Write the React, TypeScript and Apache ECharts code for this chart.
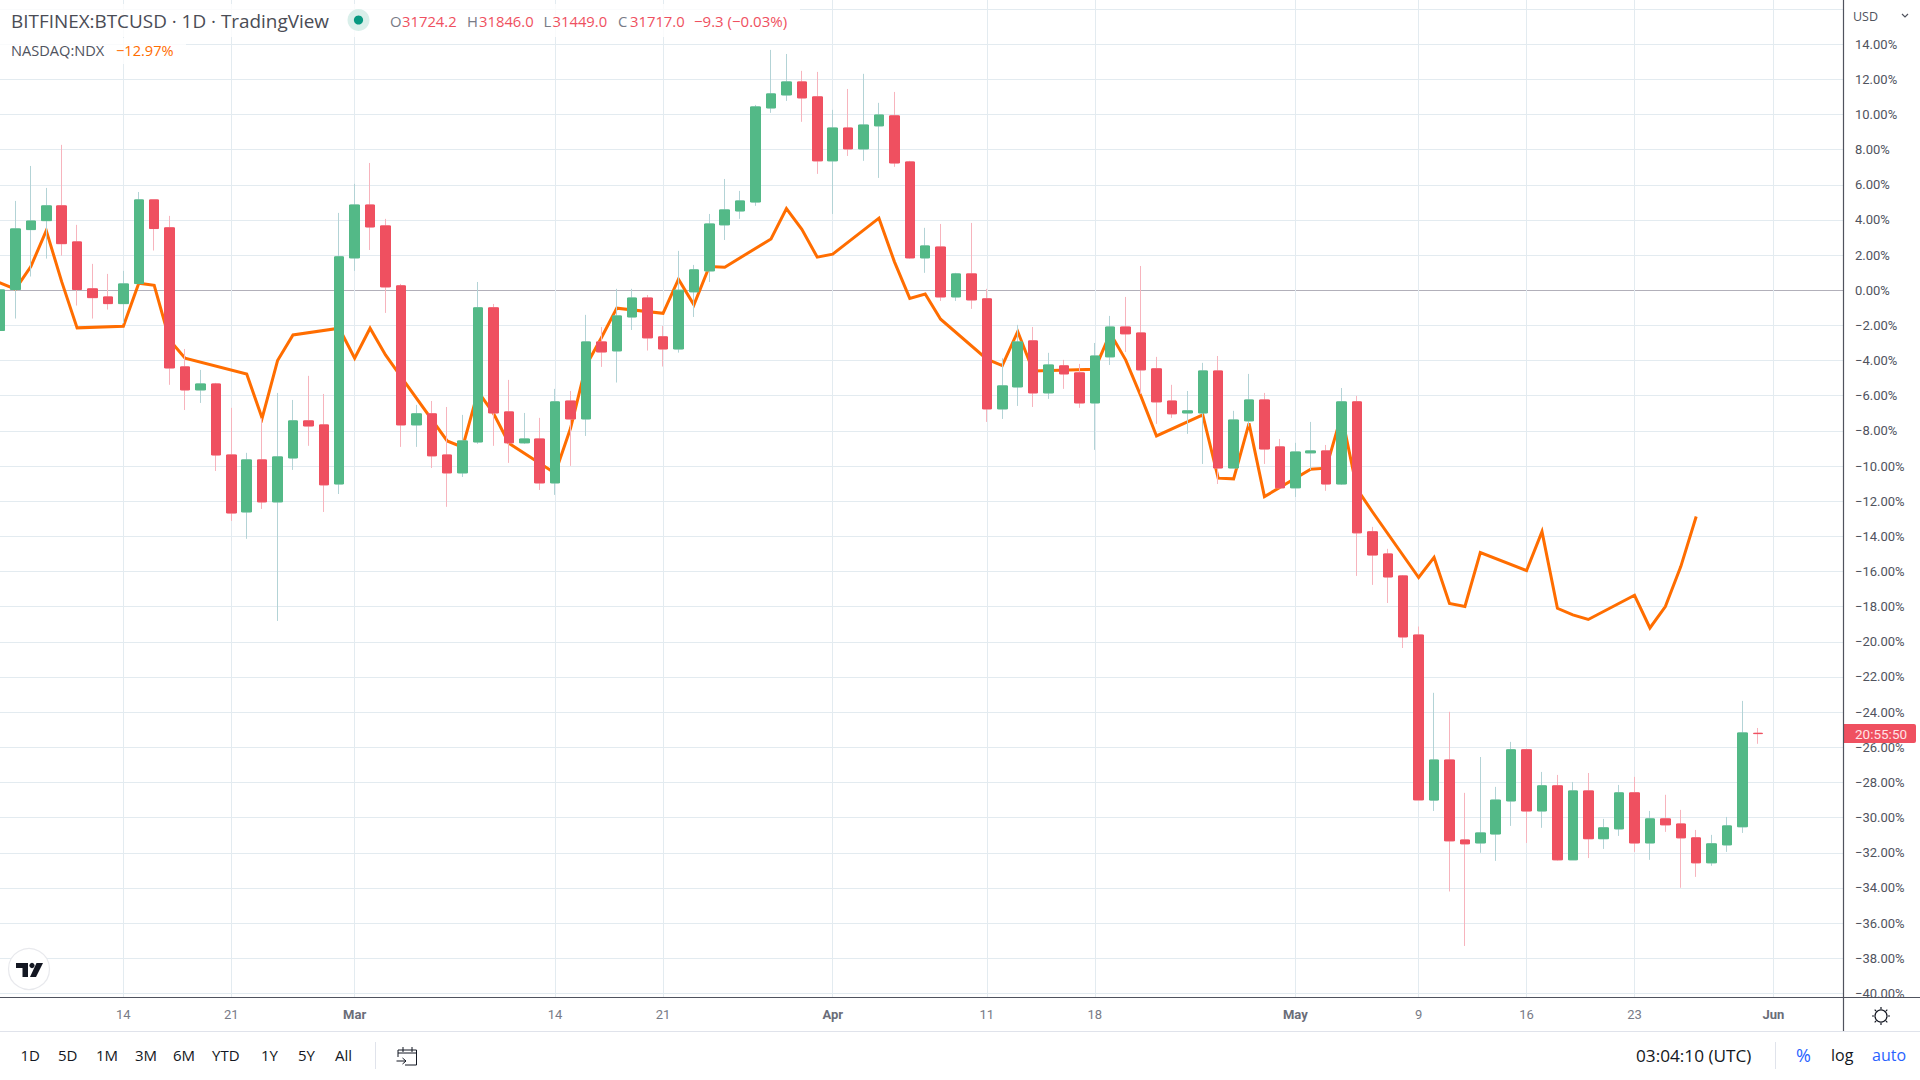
import React, { useEffect, useRef } from "react";
import * as echarts from "echarts";

const YEAR = 2022;
const DAY = 86400000;
// x position of a date: whole days since the first visible candle
const ts = (s: string) => { const [m, d] = s.split("-").map(Number); return (Date.UTC(YEAR, m - 1, d) - Date.UTC(YEAR, 1, 6)) / DAY; };

const monthLengths: [number, number, number][] = [[2, 6, 28], [3, 1, 31], [4, 1, 30], [5, 1, 31]];
const candleDates: string[] = [];
monthLengths.forEach(([m, a, b]) => { for (let d = a; d <= b; d++) candleDates.push(`${m}-${d}`); });

const opens = [
  -2.29, 0.04, 3.45, 3.96, 4.80, 2.75, 0.08, -0.38, -0.76, 0.38, 5.14, 3.55, -4.36, -5.67, -5.33, -9.37, -12.61, -9.65, -12.04, -9.54, -7.43, -7.66, -11.02,
  1.84, 4.85, 3.66, 0.25, -7.66, -7.03, -9.37, -10.39, -8.63, -1.00, -6.92, -8.68, -8.46, -10.96, -6.30, -7.32, -2.94, -3.45, -1.52, -0.44, -2.65, -3.34, -0.09, 1.10, 3.72, 4.51, 5.02, 10.37, 11.11, 11.85, 11.00,
  7.36, 9.23, 8.04, 9.35, 9.92, 7.30, 1.84, 2.46, -0.38, 0.93, -0.49, -6.75, -5.50, -2.88, -5.84, -4.30, -4.70, -6.41, -3.79, -2.09, -2.43, -4.47, -6.30, -6.98, -6.98, -4.59, -10.11, -7.43, -6.24, -8.91,
  -11.24, -9.25, -9.14, -11.02, -6.35, -13.74, -15.00, -16.25, -19.61, -29.00, -26.72, -31.27, -31.44, -30.93, -29.05, -26.14, -29.62, -28.19, -32.40, -28.48, -31.20, -30.64, -28.59, -31.44, -30.07, -30.36, -31.15, -32.57, -31.55, -30.52, -25.20,
];
const closes = [
  0.02, 3.49, 3.94, 4.80, 2.65, 0.04, -0.42, -0.76, 0.36, 5.14, 3.51, -4.42, -5.67, -5.33, -9.37, -12.67, -9.65, -12.04, -9.48, -7.43, -7.72, -11.07, 1.90,
  4.85, 3.60, 0.19, -7.66, -7.03, -9.42, -10.39, -8.57, -1.00, -6.98, -8.68, -8.46, -10.96, -6.35, -7.32, -2.94, -3.51, -1.46, -0.44, -2.71, -3.34, 0.00, 1.16, 3.77, 4.57, 5.08, 10.43, 11.17, 11.85, 10.94, 7.36,
  9.23, 8.04, 9.40, 9.97, 7.24, 1.84, 2.52, -0.38, 0.93, -0.55, -6.75, -5.44, -2.94, -5.84, -4.25, -4.76, -6.41, -3.74, -2.09, -2.48, -4.53, -6.35, -7.03, -6.86, -4.59, -10.11, -7.38, -6.24, -9.03, -11.24,
  -9.20, -9.14, -11.02, -6.35, -13.80, -15.06, -16.31, -19.72, -28.99, -26.72, -31.32, -31.49, -30.87, -29.00, -26.14, -29.62, -28.19, -32.40, -28.48, -31.20, -30.58, -28.59, -31.44, -30.07, -30.41, -31.15, -32.57, -31.49, -30.47, -25.18, -25.22,
];
const lows = [
  -2.86, -1.61, 0.78, 1.80, 1.97, -0.87, -1.61, -1.10, -1.88, 0.38, 2.26, -5.38, -6.81, -6.41, -10.28, -13.12, -14.14, -12.44, -18.81, -10.22, -8.85, -12.61, -11.59,
  1.10, 2.29, -1.29, -8.91, -8.91, -10.11, -12.32, -10.62, -8.74, -8.85, -9.82, -8.74, -11.36, -11.64, -9.99, -8.29, -4.36, -5.25, -2.26, -3.43, -4.34, -3.55, -1.52, 0.47, 2.86, 4.06, 4.80, 10.09, 10.77, 9.58, 6.62,
  4.34, 7.64, 7.36, 6.39, 7.02, 1.80, 0.99, -0.61, -0.61, -1.06, -7.49, -7.32, -6.58, -6.64, -6.18, -5.61, -6.69, -9.08, -4.25, -3.51, -5.90, -7.60, -7.26, -8.17, -9.88, -11.02, -10.11, -7.75, -9.88, -11.24,
  -11.76, -10.22, -11.41, -11.07, -16.25, -16.76, -17.79, -20.35, -29.00, -29.62, -34.20, -37.30, -32.00, -32.46, -30.47, -31.44, -30.58, -32.44, -32.40, -32.30, -31.78, -31.04, -31.95, -32.40, -30.81, -33.99, -33.37, -32.74, -31.95, -30.87, -25.80,
];
const highs = [
  0.82, 5.08, 7.07, 5.82, 8.27, 3.72, 1.50, 0.93, 1.10, 5.59, 5.14, 4.23, -3.34, -4.53, -5.27, -6.69, -9.25, -7.28, -5.84, -6.24, -4.87, -5.90, 4.40,
  6.05, 7.24, 4.06, 0.36, -6.52, -6.30, -6.64, -7.09, 0.47, -0.78, -5.10, -6.98, -7.26, -5.61, -5.73, -1.40, -2.09, 0.08, 0.08, -0.27, -2.03, 2.24, 1.44, 4.34, 6.33, 5.65, 10.54, 13.67, 13.44, 12.48, 12.42,
  10.26, 11.45, 12.31, 10.66, 11.28, 7.36, 3.55, 3.77, 0.99, 3.83, 0.08, -3.87, -1.97, -2.09, -3.56, -3.96, -4.19, -3.00, -1.46, -0.38, 1.38, -3.79, -5.38, -5.73, -4.13, -3.74, -6.86, -4.76, -5.84, -8.46,
  -8.68, -7.49, -8.80, -5.56, -6.01, -13.46, -14.71, -16.20, -19.13, -22.90, -23.98, -28.59, -26.55, -28.25, -25.69, -26.14, -27.40, -27.57, -27.97, -27.46, -30.07, -28.14, -27.68, -29.62, -28.70, -29.56, -30.70, -30.98, -29.96, -23.36, -24.90,
];

const ndxDates = [
  "2-4", "2-7", "2-8", "2-9", "2-10", "2-11", "2-14", "2-15", "2-16", "2-17", "2-18", "2-22", "2-23", "2-24", "2-25", "2-28",
  "3-1", "3-2", "3-3", "3-4", "3-7", "3-8", "3-9", "3-10", "3-11", "3-14", "3-15", "3-16", "3-17", "3-18", "3-21", "3-22", "3-23", "3-24", "3-25", "3-28", "3-29", "3-30", "3-31",
  "4-1", "4-4", "4-5", "4-6", "4-7", "4-8", "4-11", "4-12", "4-13", "4-14", "4-18", "4-19", "4-20", "4-21", "4-22", "4-25", "4-26", "4-27", "4-28", "4-29",
  "5-2", "5-3", "5-4", "5-5", "5-6", "5-9", "5-10", "5-11", "5-12", "5-13", "5-16", "5-17", "5-18", "5-19", "5-20", "5-23", "5-24", "5-25", "5-26", "5-27",
];
const ndxValues = [
  1.14, 0.06, 1.35, 3.39, 0.49, -2.14, -2.05, 0.40, 0.28, -2.83, -3.87, -4.76, -7.28, -4.00, -2.54, -2.16,
  -3.87, -2.16, -3.68, -4.91, -8.57, -8.93, -5.76, -7.00, -8.70, -10.41, -7.85, -4.30, -2.70, -1.02, -1.31, 0.63, -0.83, 1.35, 1.31, 2.92, 4.65, 3.47, 1.88,
  2.05, 4.10, 1.63, -0.46, -0.21, -1.65, -3.92, -4.29, -2.35, -4.59, -4.49, -2.45, -3.96, -6.05, -8.29, -7.09, -10.69, -10.73, -7.57, -11.74,
  -10.18, -10.12, -7.09, -11.30, -12.60, -16.34, -15.20, -17.82, -17.99, -14.92, -15.95, -13.73, -18.09, -18.47, -18.73, -17.35, -19.21, -17.99, -15.72, -12.87,
];

const timeTickDates = ["2-14", "2-21", "3-1", "3-14", "3-21", "4-1", "4-11", "4-18", "5-1", "5-9", "5-16", "5-23", "6-1"];
const timeTickLabels = ["14", "21", "Mar", "14", "21", "Apr", "11", "18", "May", "9", "16", "23", "Jun"];
const percentTicks = [16, 14, 12, 10, 8, 6, 4, 2, 0, -2, -4, -6, -8, -10, -12, -14, -16, -18, -20, -22, -24, -26, -28, -30, -32, -34, -36, -38, -40];
const percentLabels = percentTicks.slice(1);
const rangeButtons = ["1D", "5D", "1M", "3M", "6M", "YTD", "1Y", "5Y", "All"];
const rangeButtonX = [20.5, 58, 96, 135, 173, 212, 261, 298, 335];

const FONT = "Roboto, 'Liberation Sans', sans-serif";
const UI_FONT = "'Open Sans', 'Liberation Sans', sans-serif";
const RED = "#ef5060";
const GREEN = "#53b987";
const RED_WICK = "#f7b4bd";
const GREEN_WICK = "#b3d3d6";
const GRID = "#e3ebf0";
const ORANGE = "#ff6d00";

const PLOT_W = 1843;
const PLOT_H = 997.3;
const X_MIN = 0;
const X_MAX = PLOT_W / 15.42;
const Y_MAX = 16.51;
const Y_MIN = -40.22;

const txt = (text: string, x: number, y: number, fontSize: number, fill: string, extra: any = {}) => ({
  type: "text", x, y, z: 12,
  style: { text, fill, font: `${extra.weight || "normal"} ${fontSize}px ${extra.family || UI_FONT}`, textVerticalAlign: "middle", textAlign: extra.align || "left" },
});
const ln = (x1: number, y1: number, x2: number, y2: number, stroke: string, lineWidth = 1, z = 12) => ({
  type: "line", z, shape: { x1, y1, x2, y2 }, style: { stroke, lineWidth, fill: "none" },
});

function buildGraphics() {
  const g: any[] = [];
  // panels and frame
  g.push({ type: "rect", z: 5, shape: { x: 0, y: 998, width: 1920, height: 82 }, style: { fill: "#ffffff" } });
  g.push({ type: "rect", z: 10, shape: { x: 0, y: 4, width: 800, height: 33 }, style: { fill: "rgba(255,255,255,0.8)" } });
  g.push({ type: "rect", z: 10, shape: { x: 0, y: 38, width: 186, height: 26 }, style: { fill: "rgba(255,255,255,0.8)" } });
  g.push(ln(0, 997.5, 1920, 997.5, "#50535e", 1.2));
  g.push(ln(1843.5, 0, 1843.5, 1031, "#50535e", 1.2));
  g.push(ln(0, 1031.5, 1920, 1031.5, "#e0e3eb", 1));

  // header
  g.push(txt("BITFINEX:BTCUSD · 1D · TradingView", 11, 21, 18.9, "#4a4c55"));
  g.push({ type: "circle", z: 12, shape: { cx: 358.5, cy: 20, r: 11 }, style: { fill: "#d9efea" } });
  g.push({ type: "circle", z: 13, shape: { cx: 358.5, cy: 20, r: 4.6 }, style: { fill: "#089981" } });
  const ohlc = [
    ["O", "31724.2", 390], ["H", "31846.0", 467], ["L", "31449.0", 543.5], ["C", "31717.0", 618],
  ] as [string, string, number][];
  ohlc.forEach(([l, v, x]) => {
    g.push(txt(l, x, 21, 14.8, "#787b86"));
    g.push(txt(v, x + (l === "L" ? 9 : 12), 21, 14.8, RED));
  });
  g.push(txt("−9.3 (−0.03%)", 694, 21, 15, RED));
  g.push(txt("NASDAQ:NDX", 11, 50, 14.6, "#50535e"));
  g.push(txt("−12.97%", 116, 50, 14.6, ORANGE));

  // price axis corner
  g.push(txt("USD", 1853, 16, 12.5, "#50535e"));
  g.push({ type: "polyline", z: 12, shape: { points: [[1902, 14], [1905, 17], [1908, 14]] }, style: { stroke: "#50535e", lineWidth: 1.2, fill: "none" } });

  // countdown
  g.push({ type: "rect", z: 11, shape: { x: 1843, y: 724, width: 73, height: 19, r: [0, 2, 2, 0] }, style: { fill: RED } });
  g.push(txt("20:55:50", 1855, 733.5, 13.5, "#ffe3e6", { family: FONT }));

  // logo
  g.push({ type: "circle", z: 12, shape: { cx: 29, cy: 969, r: 20.5 }, style: { fill: "#ffffff", stroke: "#e8e9ed", lineWidth: 1.2 } });
  g.push({ type: "polygon", z: 13, shape: { points: [[16, 963], [28, 963], [28, 977], [22.5, 977], [22.5, 968], [16, 968]] }, style: { fill: "#131722" } });
  g.push({ type: "polygon", z: 13, shape: { points: [[36.5, 963], [43, 963], [36, 977], [30, 977]] }, style: { fill: "#131722" } });
  g.push({ type: "circle", z: 13, shape: { cx: 32, cy: 965.5, r: 2.6 }, style: { fill: "#131722" } });

  // settings icon
  g.push({ type: "circle", z: 12, shape: { cx: 1881, cy: 1016, r: 6 }, style: { fill: "none", stroke: "#131722", lineWidth: 1.2 } });
  [[0, -1], [0, 1], [-1, 0], [1, 0], [-0.7, -0.7], [0.7, -0.7], [-0.7, 0.7], [0.7, 0.7]].forEach(([dx, dy]) => {
    g.push(ln(1881 + dx * 7, 1016 + dy * 7, 1881 + dx * 9, 1016 + dy * 9, "#131722", 1.2));
  });

  // bottom toolbar
  rangeButtons.forEach((b, i) => g.push(txt(b, rangeButtonX[i], 1055, 15, "#131722")));
  g.push(ln(375.5, 1042, 375.5, 1069, "#e0e3eb"));
  g.push({ type: "polyline", z: 12, shape: { points: [[398, 1057], [398, 1050], [416.5, 1050], [416.5, 1065], [405, 1065]] }, style: { stroke: "#131722", lineWidth: 1, fill: "none" } });
  g.push(ln(398, 1053, 416.5, 1053, "#131722"));
  g.push(ln(403, 1047, 403, 1052, "#131722"));
  g.push(ln(412, 1047, 412, 1052, "#131722"));
  g.push(ln(396.5, 1061, 406, 1061, "#131722"));
  g.push({ type: "polyline", z: 12, shape: { points: [[402.5, 1058], [406, 1061], [402.5, 1064]] }, style: { stroke: "#131722", lineWidth: 1, fill: "none" } });
  g.push(txt("03:04:10 (UTC)", 1636, 1055, 17.2, "#131722"));
  g.push(ln(1775.5, 1042, 1775.5, 1069, "#e0e3eb"));
  g.push(txt("%", 1796, 1055, 18, "#2962ff"));
  g.push(txt("log", 1831, 1055, 16, "#131722"));
  g.push(txt("auto", 1872, 1055, 16, "#2962ff"));
  return g;
}

export default function App() {
  const ref = useRef<HTMLDivElement>(null);
  useEffect(() => {
    const chart = echarts.init(ref.current!, undefined, { renderer: "svg" });
    const wickData = candleDates.map((d, i) => [ts(d), opens[i], closes[i], lows[i], highs[i]]);
    const bodyData = candleDates.map((d, i) => [ts(d), opens[i], closes[i], Math.min(opens[i], closes[i]), Math.max(opens[i], closes[i])]);
    const tickValues = timeTickDates.map(ts);
    chart.setOption({
      animation: false,
      backgroundColor: "#ffffff",
      textStyle: { fontFamily: FONT },
      grid: { left: 0, top: 0, width: PLOT_W, height: PLOT_H, containLabel: false },
      xAxis: {
        type: "value",
        min: X_MIN,
        max: X_MAX,
        z: 6,
        axisLine: { show: false },
        axisTick: { show: false, customValues: tickValues },
        splitLine: { show: true, lineStyle: { color: GRID, width: 1 } },
        axisLabel: {
          customValues: tickValues,
          margin: 11,
          hideOverlap: false,
          fontFamily: FONT,
          fontSize: 13,
          color: "#787b86",
          formatter: (v: number) => {
            const l = timeTickLabels[tickValues.indexOf(v)] ?? "";
            return /[A-Z]/.test(l) ? `{m|${l}}` : l;
          },
          rich: { m: { fontWeight: "bold", fontSize: 13, fontFamily: FONT, color: "#6a6d78" } },
        },
      },
      yAxis: {
        type: "value",
        position: "right",
        min: Y_MIN,
        max: Y_MAX,
        z: 0,
        axisLine: { show: false },
        axisTick: { show: false, customValues: percentTicks },
        splitLine: { show: true, lineStyle: { color: GRID, width: 1 } },
        axisLabel: {
          customValues: percentLabels,
          inside: false,
          margin: 12,
          padding: [0, 0, 2, 0],
          fontFamily: FONT,
          fontSize: 13,
          color: "#50535e",
          formatter: (v: number) => `${v < 0 ? "−" : ""}${Math.abs(v).toFixed(2)}%`,
        },
      },
      graphic: { elements: buildGraphics() },
      series: [
        {
          name: "NASDAQ:NDX",
          type: "line",
          z: 7,
          data: ndxDates.map((d, i) => [ts(d), ndxValues[i]]),
          showSymbol: false,
          lineStyle: { color: ORANGE, width: 3, join: "miter" },
          itemStyle: { color: ORANGE },
          clip: true,
          markLine: {
            silent: true,
            symbol: "none",
            label: { show: false },
            lineStyle: { color: "#b2b0ba", width: 1, type: "solid" },
            data: [{ yAxis: 0 }],
          },
        },
        {
          name: "BTCUSD wicks",
          type: "candlestick",
          z: 8,
          barWidth: 8,
          data: wickData,
          encode: { x: 0, y: [1, 2, 3, 4] },
          itemStyle: { color: GREEN, color0: RED, borderColor: GREEN_WICK, borderColor0: RED_WICK, borderWidth: 1 },
          clip: true,
        },
        {
          name: "BITFINEX:BTCUSD",
          type: "candlestick",
          z: 9,
          barWidth: 10,
          data: bodyData,
          encode: { x: 0, y: [1, 2, 3, 4] },
          itemStyle: { color: GREEN, color0: RED, borderColor: GREEN, borderColor0: RED, borderWidth: 1 },
          clip: true,
        },
      ],
    });
    return () => chart.dispose();
  }, []);
  return <div ref={ref} style={{ position: "fixed", left: 0, top: 0, width: 1920, height: 1080 }} />;
}
